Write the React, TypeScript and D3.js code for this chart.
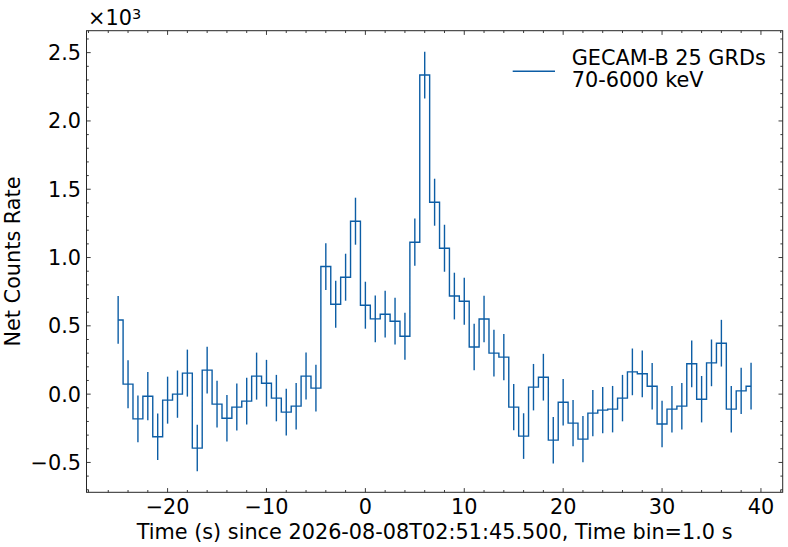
import * as d3 from "d3"

// time since trigger (s), one bin per second
const times = [
  -25, -24, -23, -22, -21, -20, -19, -18, -17, -16, -15, -14, -13, -12, -11, -10, -9, -8, -7, -6, -5, -4, -3, -2, -1,
  0, 1, 2, 3, 4, 5, 6, 7, 8, 9, 10, 11, 12, 13, 14, 15, 16, 17, 18, 19, 20, 21, 22, 23, 24, 25, 26, 27, 28, 29, 30,
  31, 32, 33, 34, 35, 36, 37, 38, 39,
]

// net counts rate (counts/s)
const rates = [
  543, 73, -181, -15, -312, -44, 0, 154, -395, 176, -73, -176, -95, -51, 132, 80, -29, -132, -88, 132, 44, 934, 658,
  856, 1266, 651, 551, 585, 534, 424, 1112, 2336, 1405, 1068, 718, 680, 345, 550, 300, 271, -95, -307, 51, 124, -337,
  -59, -212, -329, -139, -117, -110, -29, 163, 149, 58, -219, -110, -88, 222, -37, 229, 373, -110, 24, 58,
]

// 1-sigma errors (counts/s)
const errors = [
  175, 176, 171, 177, 171, 172, 173, 172, 170, 171, 171, 170, 172, 171, 172, 171, 170, 171, 170, 172, 171, 171, 172,
  172, 172, 172, 171, 171, 171, 172, 173, 171, 172, 172, 171, 172, 171, 171, 171, 170, 169, 167, 170, 171, 170, 170,
  169, 169, 170, 170, 170, 170, 171, 171, 170, 170, 170, 170, 171, 170, 171, 171, 170, 170, 171,
]

const xMajor = [-20, -10, 0, 10, 20, 30, 40]
const yMajor = [-500, 0, 500, 1000, 1500, 2000, 2500]

const legendLines = ["GECAM-B 25 GRDs", "70-6000 keV"]
const xLabel = "Time (s) since 2026-08-08T02:51:45.500, Time bin=1.0 s"
const yLabel = "Net Counts Rate"

const W = 788
const H = 547
const margin = { left: 86.5, right: 5.3, top: 30.7, bottom: 54.7 }
const color = "#0C5DA5"
const axisColor = "#262626"
const font = "'DejaVu Sans', sans-serif"
const fs = 20.8

export default function App() {
  const x0 = d3.min(times)!
  const x1 = d3.max(times)!
  const xPad = (x1 - x0) * 0.05
  const x = d3
    .scaleLinear()
    .domain([x0 - xPad, x1 + xPad])
    .range([margin.left, W - margin.right])

  const lo = d3.min(rates.map((r, i) => r - errors[i]))!
  const hi = d3.max(rates.map((r, i) => r + errors[i]))!
  const yPad = (hi - lo) * 0.05
  const y = d3
    .scaleLinear()
    .domain([lo - yPad, hi + yPad])
    .range([H - margin.bottom, margin.top])

  const [xl, xr] = x.range()
  const [yb, yt] = y.range()

  const xMinor = d3.range(-28, 43, 2).filter((v) => !xMajor.includes(v) && x(v) >= xl && x(v) <= xr)
  const yMinor = d3
    .range(-700, 2700, 100)
    .filter((v) => !yMajor.includes(v) && y(v) <= yb && y(v) >= yt)

  const points = times.map((t, i) => [t, rates[i]] as [number, number])
  const step = d3
    .line<[number, number]>()
    .x((d) => x(d[0]))
    .y((d) => y(d[1]))
    .curve(d3.curveStep)

  const fmtY = (v: number) => d3.format(".1f")(v / 1000)
  const fmtX = d3.format("d")

  const majLen = 4.2
  const minLen = 2.3

  return (
    <svg
      width={W}
      height={H}
      style={{ position: "absolute", left: 0, top: 0, background: "white" }}
      fontFamily={font}
    >
      <rect width={W} height={H} fill="white" />

      {/* error bars */}
      <g stroke={color} strokeWidth={1.4}>
        {points.map((d, i) => (
          <line key={i} x1={x(d[0])} x2={x(d[0])} y1={y(d[1] - errors[i])} y2={y(d[1] + errors[i])} />
        ))}
      </g>

      {/* step histogram */}
      <path d={step(points)!} fill="none" stroke={color} strokeWidth={1.4} />

      {/* ticks, inward on all four sides */}
      <g stroke={axisColor} strokeWidth={0.9}>
        {xMajor.map((v) => (
          <g key={"xM" + v}>
            <line x1={x(v)} x2={x(v)} y1={yb} y2={yb - majLen} />
            <line x1={x(v)} x2={x(v)} y1={yt} y2={yt + majLen} />
          </g>
        ))}
        {xMinor.map((v) => (
          <g key={"xm" + v}>
            <line x1={x(v)} x2={x(v)} y1={yb} y2={yb - minLen} />
            <line x1={x(v)} x2={x(v)} y1={yt} y2={yt + minLen} />
          </g>
        ))}
        {yMajor.map((v) => (
          <g key={"yM" + v}>
            <line x1={xl} x2={xl + majLen} y1={y(v)} y2={y(v)} />
            <line x1={xr} x2={xr - majLen} y1={y(v)} y2={y(v)} />
          </g>
        ))}
        {yMinor.map((v) => (
          <g key={"ym" + v}>
            <line x1={xl} x2={xl + minLen} y1={y(v)} y2={y(v)} />
            <line x1={xr} x2={xr - minLen} y1={y(v)} y2={y(v)} />
          </g>
        ))}
      </g>

      {/* frame */}
      <rect x={xl} y={yt} width={xr - xl} height={yb - yt} fill="none" stroke={axisColor} strokeWidth={1} />

      {/* tick labels */}
      <g fontSize={fs} fill="black">
        {xMajor.map((v) => (
          <text key={"xl" + v} x={x(v)} y={513.5} textAnchor="middle">
            {fmtX(v)}
          </text>
        ))}
        {yMajor.map((v) => (
          <text key={"yl" + v} x={81} y={y(v)} dy="0.36em" textAnchor="end">
            {fmtY(v)}
          </text>
        ))}
      </g>

      {/* offset text */}
      <text x={88} y={25} fontSize={fs} fill="black">
        ×10
        <tspan fontSize={14.5} dy={-6.5}>
          3
        </tspan>
      </text>

      {/* axis labels */}
      <text x={(xl + xr) / 2} y={538.5} textAnchor="middle" fontSize={fs} fill="black">
        {xLabel}
      </text>
      <text
        transform={`translate(19.5, ${(yt + yb) / 2}) rotate(-90)`}
        textAnchor="middle"
        fontSize={fs}
        fill="black"
      >
        {yLabel}
      </text>

      {/* legend */}
      <line x1={512.7} x2={555} y1={71.3} y2={71.3} stroke={color} strokeWidth={1.4} />
      {legendLines.map((s, i) => (
        <text key={s} x={571.7} y={64.5 + i * 22} fontSize={fs} fill="black">
          {s}
        </text>
      ))}
    </svg>
  )
}
